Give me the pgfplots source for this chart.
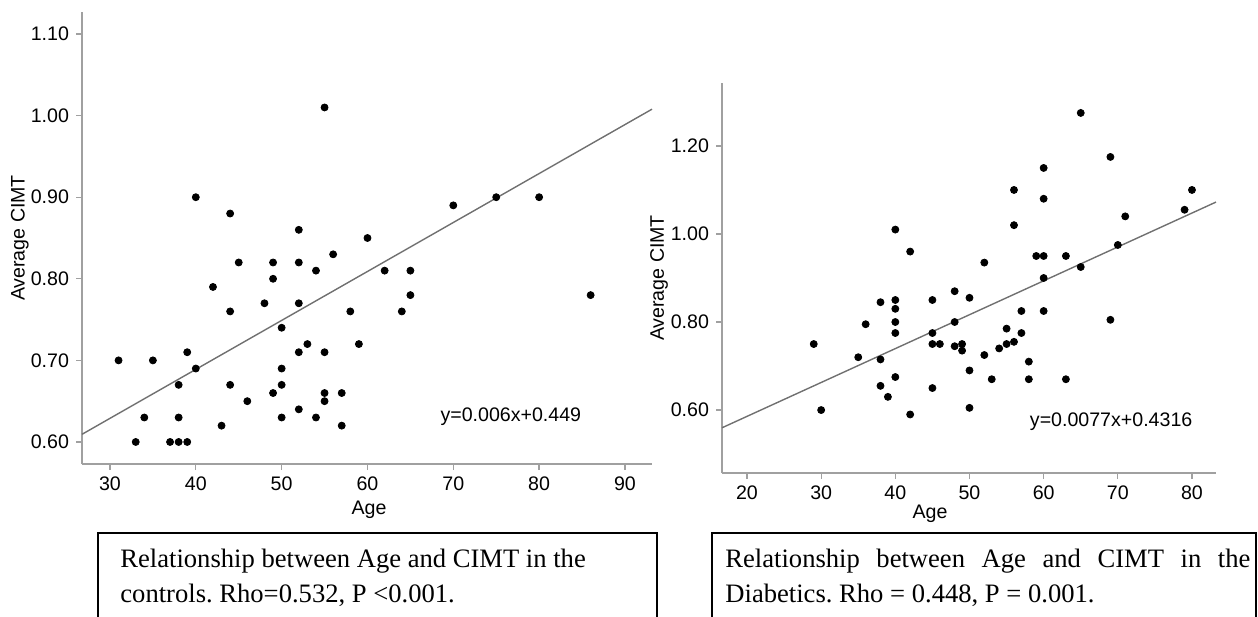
\documentclass[border=0pt]{standalone}
\usepackage{fontspec}
\setmainfont{Liberation Sans}
\newfontfamily\capfont{Liberation Serif}
\usepackage{pgfplots}
\usepackage{pgfplotstable}
\pgfplotsset{compat=1.18}
\definecolor{axisgray}{HTML}{A0A0A0}
\definecolor{linegray}{HTML}{707070}
\frenchspacing

\pgfplotstableread{
x y
31 0.70
33 0.60
34 0.63
35 0.70
37 0.60
38 0.60
38 0.63
38 0.67
39 0.60
39 0.71
40 0.69
40 0.90
42 0.79
43 0.62
44 0.67
44 0.76
44 0.88
45 0.82
46 0.65
48 0.77
49 0.66
49 0.80
49 0.82
50 0.63
50 0.67
50 0.69
50 0.74
52 0.64
52 0.71
52 0.77
52 0.82
52 0.86
53 0.72
54 0.63
54 0.81
55 0.65
55 0.66
55 0.71
55 1.01
56 0.83
57 0.62
57 0.66
58 0.76
59 0.72
60 0.85
62 0.81
64 0.76
65 0.78
65 0.81
70 0.89
75 0.90
80 0.90
86 0.78
}\controls

\pgfplotstableread{
x y
29 0.75
30 0.60
35 0.72
36 0.795
38 0.845
38 0.715
38 0.655
39 0.63
40 1.01
40 0.85
40 0.83
40 0.80
40 0.775
40 0.675
42 0.96
42 0.59
45 0.85
45 0.775
45 0.75
45 0.65
46 0.75
48 0.87
48 0.80
48 0.745
49 0.75
49 0.735
50 0.855
50 0.69
50 0.605
52 0.935
52 0.725
53 0.67
54 0.74
55 0.785
55 0.75
56 1.10
56 1.02
56 0.755
57 0.825
57 0.775
58 0.71
58 0.67
59 0.95
60 1.15
60 1.08
60 0.95
60 0.90
60 0.825
63 0.95
63 0.67
65 1.275
65 0.925
69 1.175
69 0.805
70 0.975
71 1.04
79 1.055
80 1.10
}\diabetics

\begin{document}
\begin{tikzpicture}
\pgfplotsset{
  cimt/.style={
    scale only axis,
    axis lines=left,
    axis line style={draw=axisgray, line width=0.65pt, -},
    tick style={draw=axisgray, line width=0.65pt},
    tick align=outside,
    major tick length=3pt,
    minor tick num=0,
    font=\fontsize{9.8}{11}\selectfont,
    tick label style={font=\fontsize{9.8}{11}\selectfont},
    /pgf/number format/assume math mode=true,
    yticklabel style={/pgf/number format/.cd, fixed, fixed zerofill, precision=2},
    xticklabel style={/pgf/number format/.cd, fixed},
    clip=false,
  },
  dots/.style={only marks, mark=*, mark size=1.75pt, mark options={draw=black, fill=black}},
  fitline/.style={no marks, draw=linegray, line width=0.7pt},
}

% Left: controls
\begin{axis}[cimt,
  at={(41pt,76pt)}, anchor=south west,
  width=285pt, height=226pt,
  xmin=26.74, xmax=93.15, ymin=0.573, ymax=1.127,
  xtick={30,40,...,90},
  ytick={0.6,0.7,0.8,0.9,1.0,1.1},
  xlabel={Age}, ylabel={Average CIMT},
  xlabel style={at={(axis description cs:0.5035,-0.102)}, anchor=center},
  ylabel style={at={(axis description cs:-0.109,0.5)}, anchor=center},
]
\addplot[fitline] coordinates {(26.74,0.6094) (93.15,1.0079)};
\addplot[dots] table[x=x,y=y] {\controls};
\node[font=\fontsize{9.8}{11}\selectfont] at (axis cs:76.7,0.631) {y=0.006x+0.449};
\end{axis}

% Right: diabetics
\begin{axis}[cimt,
  at={(361pt,71.5pt)}, anchor=south west,
  width=247pt, height=195pt,
  xmin=16.63, xmax=83.24, ymin=0.457, ymax=1.343,
  xtick={20,30,...,80},
  ytick={0.6,0.8,1.0,1.2},
  xlabel={Age}, ylabel={Average CIMT},
  xlabel style={at={(axis description cs:0.421,-0.105)}, anchor=center},
  ylabel style={at={(axis description cs:-0.1275,0.5)}, anchor=center},
]
\addplot[fitline] coordinates {(16.63,0.5597) (83.24,1.0725)};
\addplot[dots] table[x=x,y=y] {\diabetics};
\node[font=\fontsize{9.8}{11}\selectfont] at (axis cs:69.1,0.573) {y=0.0077x+0.4316};
\end{axis}

% caption boxes
\draw[line width=0.6pt] (49pt,-5pt) rectangle (328.5pt,41.5pt);
\draw[line width=0.6pt] (356pt,-5pt) rectangle (628pt,41.5pt);
\begin{scope}[every node/.style={inner sep=0pt, anchor=base west, font=\capfont\fontsize{13.3}{16}\selectfont}]
\node at (60pt,24.5pt) {Relationship between Age and CIMT in the};
\node at (60pt,7pt) {controls. Rho=0.532, P <0.001.};
\node at (362.5pt,24.5pt) {\makebox[262.5pt][s]{Relationship between Age and CIMT in the}};
\node at (362.5pt,7pt) {Diabetics. Rho = 0.448, P = 0.001.};
\end{scope}

\pgfresetboundingbox
\useasboundingbox (0,0) rectangle (629pt,308pt);
\end{tikzpicture}
\end{document}
